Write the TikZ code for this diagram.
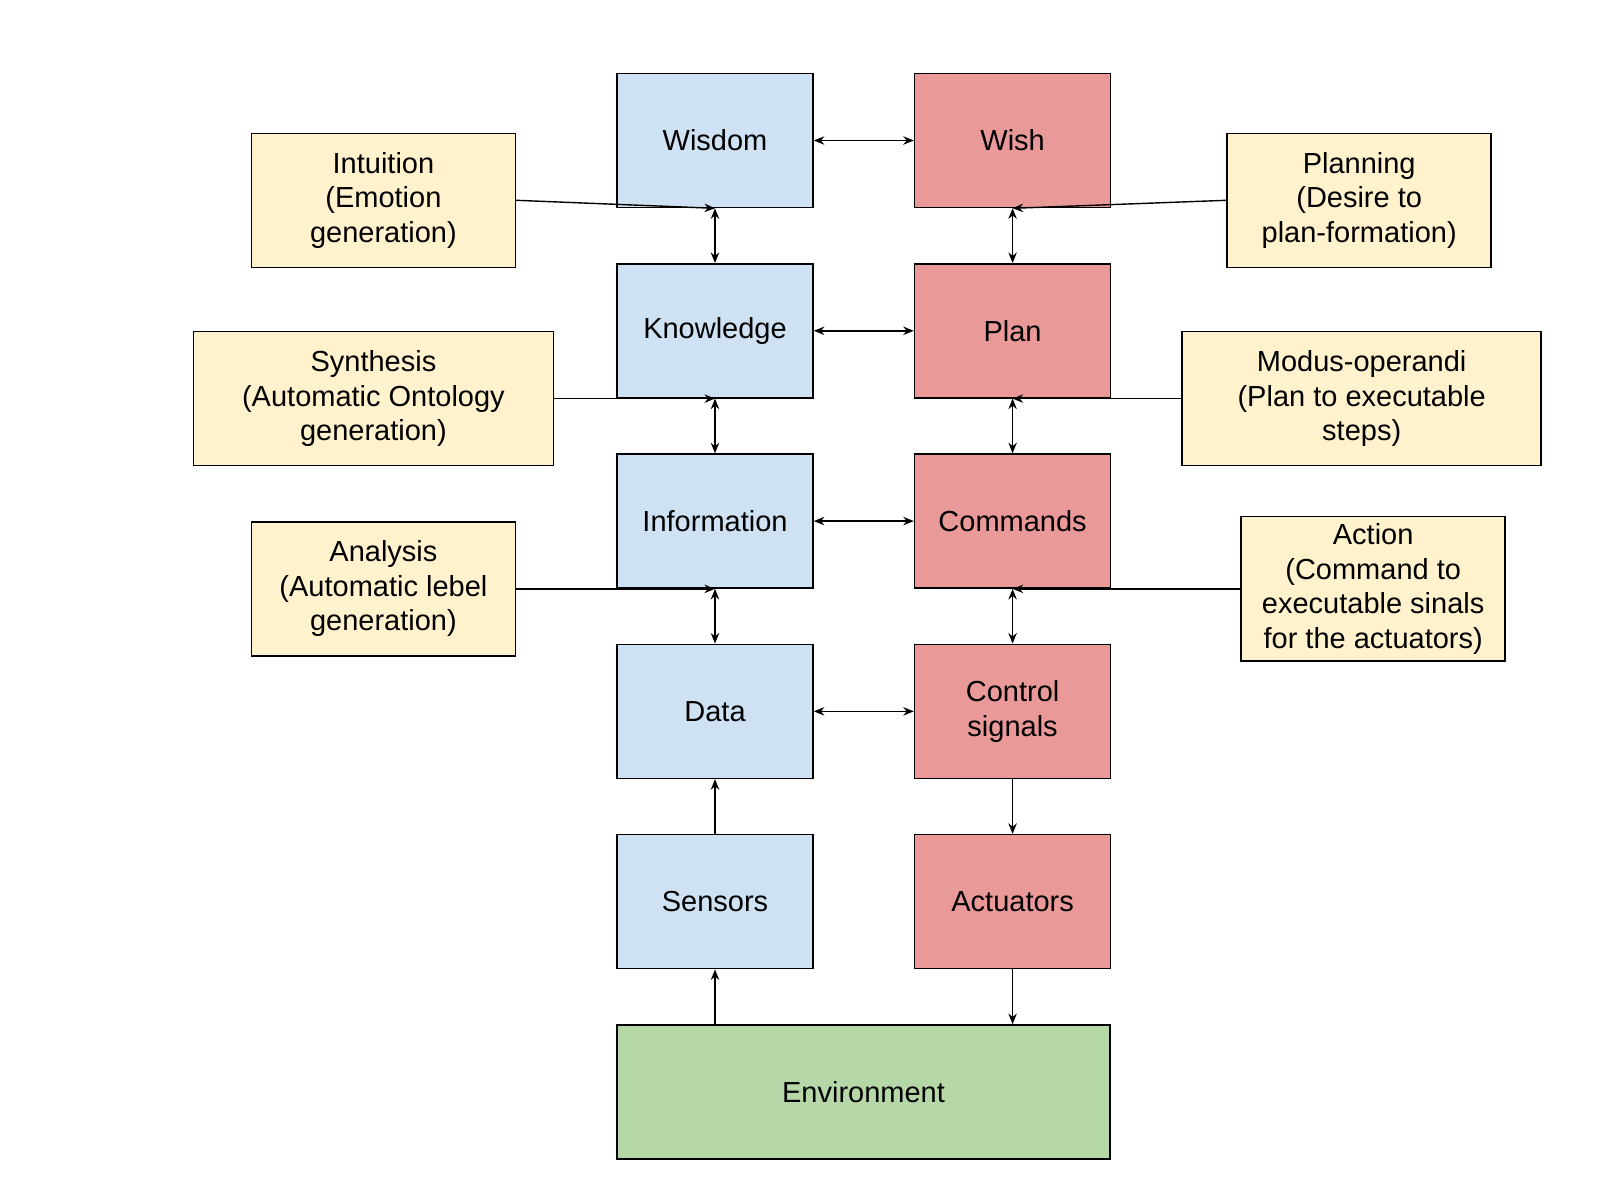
\documentclass[tikz,border=0pt]{standalone}
\usepackage{fontspec}
\setmainfont{Liberation Sans}
\usetikzlibrary{arrows.meta, positioning}
\definecolor{dkblue}{HTML}{CFE2F3}
\definecolor{dkred}{HTML}{EA9999}
\definecolor{dkyellow}{HTML}{FFF2CC}
\definecolor{dkgreen}{HTML}{B6D7A8}

\begin{document}
\begin{tikzpicture}[
      font=\fontsize{8.25}{9.8}\selectfont, node distance=0.547cm and 1.0cm,
      lvl/.style={draw=black, line width=0.45pt, minimum width=1.96cm,
                  minimum height=1.34cm, inner sep=2pt, align=center},
      bluebox/.style={lvl, fill=dkblue},
      redbox/.style={lvl, fill=dkred},
      side/.style={draw=black, line width=0.45pt, fill=dkyellow,
                   minimum height=1.34cm, inner sep=2pt, align=center},
      ar/.style={-{Stealth[length=3pt,width=2.4pt]}, line width=0.4pt},
      dar/.style={{Stealth[length=3pt,width=2.4pt]}-{Stealth[length=3pt,width=2.4pt]},
                  line width=0.4pt},
    ]
    \useasboundingbox (0,0) rectangle (16,-12);

    \node[bluebox] (wisdom) at (7.15,-1.405) {Wisdom};
    \node[bluebox, below=of wisdom] (knowledge) {Knowledge};
    \node[bluebox, below=of knowledge] (information) {Information};
    \node[bluebox, below=of information] (data) {Data};
    \node[bluebox, below=of data] (sensors) {Sensors};

    \node[redbox, right=of wisdom] (wish) {Wish};
    \node[redbox, right=of knowledge] (plan) {Plan};
    \node[redbox, right=of information] (commands) {Commands};
    \node[redbox, right=of data] (control) {Control\\signals};
    \node[redbox, right=of sensors] (actuators) {Actuators};

    \node[lvl, fill=dkgreen, minimum width=4.93cm,
          below=of sensors.south west, anchor=north west] (env) {Environment};

    \node[side, minimum width=2.64cm, left=1.0cm of wisdom.south west, yshift=0.8mm]
      (intuition) {Intuition\\(Emotion\\generation)};
    \node[side, minimum width=3.6cm, left=0.62cm of knowledge.south west]
      (synthesis) {Synthesis\\(Automatic Ontology\\generation)};
    \node[side, minimum width=2.64cm, left=1.0cm of information.south west]
      (analysis) {Analysis\\(Automatic lebel\\generation)};
    \node[side, minimum width=2.64cm, right=1.15cm of wish.south east, yshift=0.8mm]
      (planning) {Planning\\(Desire to\\plan-formation)};
    \node[side, minimum width=3.59cm, right=0.70cm of plan.south east]
      (modus) {Modus-operandi\\(Plan to executable\\steps)};
    \node[side, minimum width=2.64cm, right=1.29cm of commands.south east]
      (action) {Action\\(Command to\\executable sinals\\for the actuators)};

    \draw[dar] (wisdom) -- (wish);
    \draw[dar] (knowledge) -- (plan);
    \draw[dar] (information) -- (commands);
    \draw[dar] (data) -- (control);

    \draw[dar] (wisdom) -- (knowledge);
    \draw[dar] (knowledge) -- (information);
    \draw[dar] (information) -- (data);
    \draw[ar] (sensors) -- (data);
    \draw[ar] (sensors.south |- env.north) -- (sensors);

    \draw[dar] (wish) -- (plan);
    \draw[dar] (plan) -- (commands);
    \draw[dar] (commands) -- (control);
    \draw[ar] (control) -- (actuators);
    \draw[ar] (actuators) -- (actuators.south |- env.north);

    \draw[ar] (intuition.east) -- (wisdom.south);
    \draw[ar] (synthesis.east) -- (knowledge.south);
    \draw[ar] (analysis.east) -- (information.south);
    \draw[ar] (planning.west) -- (wish.south);
    \draw[ar] (modus.west) -- (plan.south);
    \draw[ar] (action.west) -- (commands.south);
  \end{tikzpicture}
\end{document}
